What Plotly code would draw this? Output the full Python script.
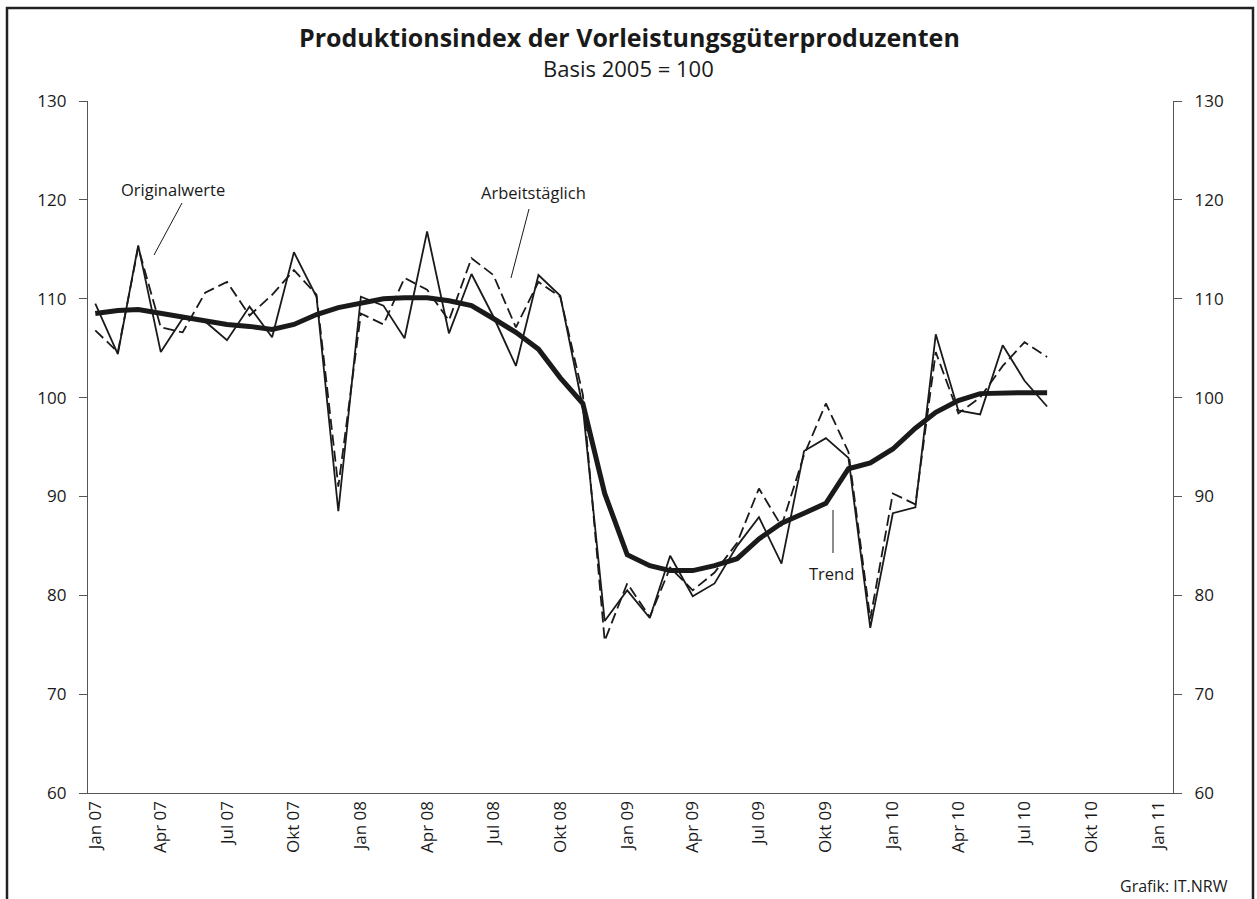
import plotly.graph_objects as go
import pandas as pd

months = pd.date_range("2007-01-01", "2010-08-01", freq="MS")

originalwerte = [109.5, 104.4, 115.4, 104.6, 108.0, 107.7, 105.8, 109.2, 106.1, 114.7, 110.2, 88.5,
                 110.2, 109.3, 106.0, 116.8, 106.5, 112.5, 108.2, 103.2, 112.4, 110.3, 99.0, 77.4,
                 80.5, 77.7, 84.0, 79.9, 81.2, 85.0, 87.9, 83.2, 94.6, 95.9, 93.9, 76.7,
                 88.3, 88.9, 106.4, 98.7, 98.3, 105.3, 101.7, 99.1]

arbeitstaeglich = [106.8, 104.6, 115.2, 107.1, 106.6, 110.6, 111.7, 108.3, 110.4, 112.9, 110.4, 91.0,
                   108.5, 107.4, 112.1, 110.9, 107.8, 114.1, 112.4, 107.1, 111.7, 110.2, 100.3, 75.4,
                   81.2, 77.8, 82.8, 80.5, 82.3, 85.3, 90.8, 87.0, 94.2, 99.4, 94.5, 77.6,
                   90.3, 89.2, 104.6, 98.4, 100.0, 103.2, 105.6, 104.1]

trend = [108.5, 108.8, 108.9, 108.5, 108.1, 107.8, 107.4, 107.2, 106.9, 107.4, 108.4, 109.1,
         109.6, 110.0, 110.1, 110.1, 109.8, 109.3, 108.0, 106.6, 104.9, 102.0, 99.4, 90.3,
         84.1, 83.0, 82.5, 82.5, 83.0, 83.7, 85.7, 87.3, 88.3, 89.3, 92.8, 93.4,
         94.8, 96.9, 98.5, 99.7, 100.4, 100.5, 100.5, 100.5]

tick_dates = pd.date_range("2007-01-01", "2011-01-01", freq="QS")
tick_labels = ["Jan 07", "Apr 07", "Jul 07", "Okt 07", "Jan 08", "Apr 08", "Jul 08", "Okt 08",
               "Jan 09", "Apr 09", "Jul 09", "Okt 09", "Jan 10", "Apr 10", "Jul 10", "Okt 10", "Jan 11"]
y_ticks = [60, 70, 80, 90, 100, 110, 120, 130]

FONT = "Open Sans"
INK = "#1a1a1a"

fig = go.Figure()
fig.add_trace(go.Scatter(x=months, y=originalwerte, mode="lines", name="Originalwerte",
                         line=dict(color=INK, width=1.8), showlegend=False))
fig.add_trace(go.Scatter(x=months, y=arbeitstaeglich, mode="lines", name="Arbeitstäglich",
                         line=dict(color=INK, width=1.8, dash="11px,5px"), showlegend=False))
fig.add_trace(go.Scatter(x=months, y=trend, mode="lines", name="Trend",
                         line=dict(color=INK, width=5), showlegend=False))
# invisible trace to activate right axis
fig.add_trace(go.Scatter(x=months, y=trend, yaxis="y2", mode="lines",
                         line=dict(width=0), opacity=0, showlegend=False, hoverinfo="skip"))

yaxis_common = dict(range=[60, 130], tickvals=y_ticks, showgrid=False, zeroline=False,
                    showline=True, linecolor="#555", linewidth=1.3,
                    ticks="outside", ticklen=8, tickcolor="#555", tickwidth=1.3,
                    ticklabelstandoff=9,
                    tickfont=dict(family=FONT, size=17, color=INK))

fig.update_layout(
    width=1257, height=899,
    paper_bgcolor="white", plot_bgcolor="white",
    margin=dict(l=88, r=84, t=101, b=106),
    xaxis=dict(range=["2006-12-22", "2011-01-21"], tickvals=tick_dates, ticktext=tick_labels,
               tickangle=-90, showgrid=False, zeroline=False, showline=True,
               linecolor="#555", linewidth=1.3, ticks="",
               tickfont=dict(family=FONT, size=17, color=INK)),
    yaxis=yaxis_common,
    yaxis2=dict(overlaying="y", side="right", **yaxis_common),
    font=dict(family=FONT, color=INK),
)

annotations = [
    dict(text="<b>Produktionsindex der Vorleistungsgüterproduzenten</b>", x=629, y=37, size=25),
    dict(text="Basis 2005 = 100", x=628, y=68, size=22),
    dict(text="Originalwerte", x=173, y=189, size=16.5),
    dict(text="Arbeitstäglich", x=533, y=192, size=16.5),
    dict(text="Trend", x=831, y=573, size=16.5),
]
PW, PH, ML, MT = 1085, 692, 88, 101
def px(xp):
    return (xp - ML) / PW
def py(yp):
    return (MT + PH - yp) / PH

for a in annotations:
    fig.add_annotation(text=a["text"], xref="paper", yref="paper", x=px(a["x"]), y=py(a["y"]),
                       showarrow=False, xanchor="center", yanchor="middle",
                       font=dict(family=FONT, size=a["size"], color=INK))

fig.add_annotation(text="Grafik: IT.NRW", xref="paper", yref="paper", x=px(1230), y=py(886),
                   showarrow=False, xanchor="right", yanchor="middle",
                   font=dict(family=FONT, size=16, color=INK))

leader_lines = [((182, 203), (154, 255)), ((529, 209), (511, 278)), ((833, 510), (833, 553))]
for (x0, y0), (x1, y1) in leader_lines:
    fig.add_shape(type="line", xref="paper", yref="paper", x0=px(x0), y0=py(y0), x1=px(x1), y1=py(y1),
                  line=dict(color=INK, width=1))

# outer frame
fig.add_shape(type="rect", xref="paper", yref="paper", x0=px(7), y0=py(8), x1=px(1253), y1=py(910),
              line=dict(color="#222", width=2.5), layer="below")

fig.write_html("out.html", config={"displayModeBar": False},
               post_script="document.body.style.margin='0';document.body.style.overflow='hidden';")
